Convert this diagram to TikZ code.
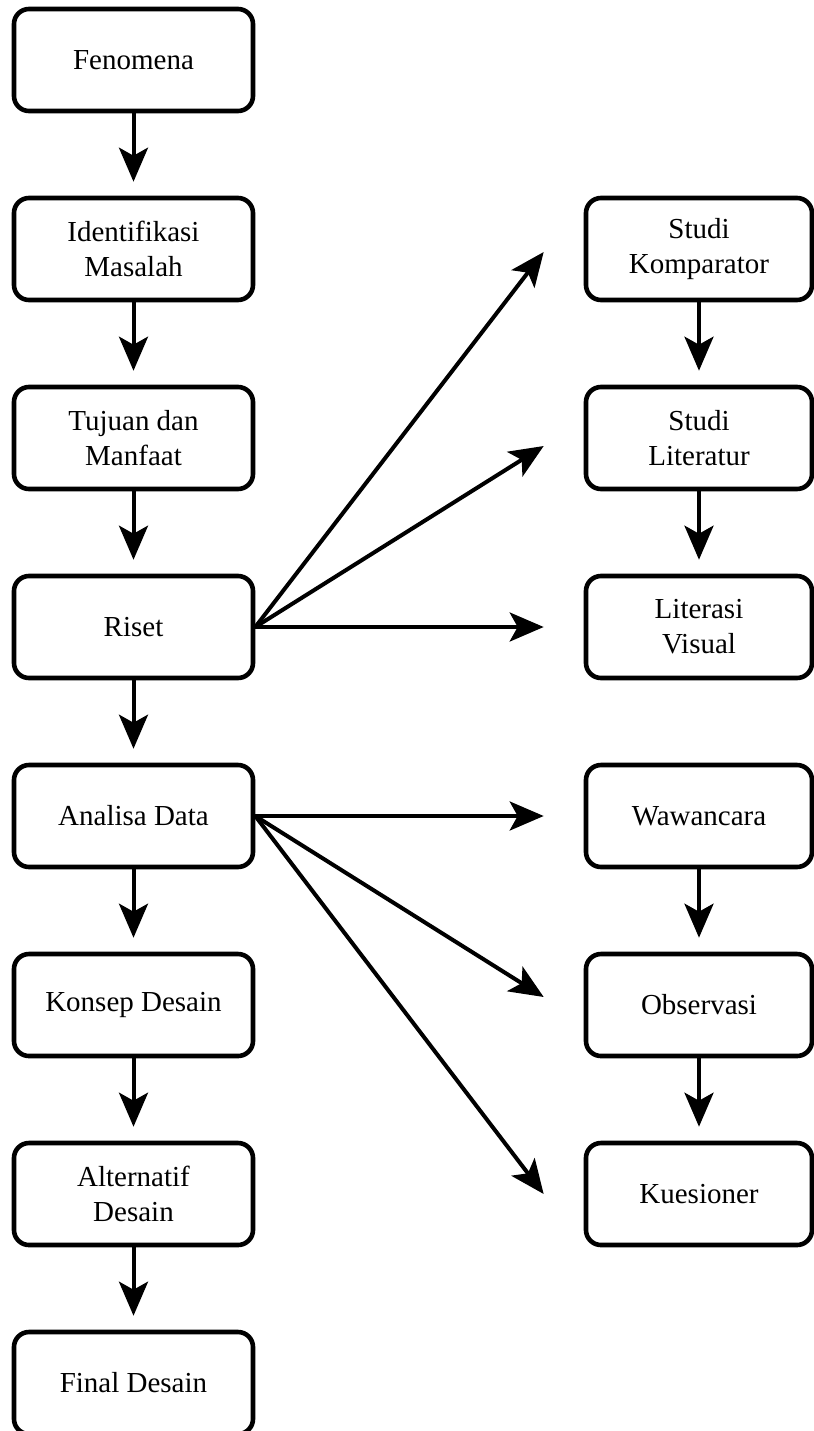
\documentclass[tikz,border=0pt]{standalone}
\usepackage{fontspec}
\setmainfont{Liberation Serif}
\usepackage{tikz}
\usetikzlibrary{positioning,arrows.meta}

\begin{document}
\begin{tikzpicture}[node distance=94.5pt,
    box/.style={draw, line width=2.3pt, rounded corners=7.5pt, align=center,
      minimum width=119.5pt, minimum height=51pt,
      font=\fontsize{14.5pt}{17.5pt}\selectfont},
    sidebox/.style={box, minimum width=113pt},
    >={Stealth[length=17pt,width=14.5pt,inset=4pt]}]
      \useasboundingbox (-66.75pt,30pt) rectangle (340.25pt,-685.5pt);
      % left column
      \node[box](fen){Fenomena};
      \node[box,below of=fen](ident){Identifikasi\\Masalah};
      \node[box,below of=ident](tuj){Tujuan dan\\Manfaat};
      \node[box,below of=tuj](riset){Riset};
      \node[box,below of=riset](anal){Analisa Data};
      \node[box,below of=anal](kons){Konsep Desain};
      \node[box,below of=kons](alt){Alternatif\\Desain};
      \node[box,below of=alt](final){Final Desain};
      % right column
      \node[sidebox,right of=ident,node distance=282.75pt](komp){Studi\\Komparator};
      \node[sidebox,below of=komp](lit){Studi\\Literatur};
      \node[sidebox,below of=lit](vis){Literasi\\Visual};
      \node[sidebox,below of=vis](waw){Wawancara};
      \node[sidebox,below of=waw](obs){Observasi};
      \node[sidebox,below of=obs](kues){Kuesioner};

      \path[->,line width=2pt,shorten >=7pt]
      (fen) edge (ident)
      (ident) edge (tuj)
      (tuj) edge (riset)
      (riset) edge (anal)
      (anal) edge (kons)
      (kons) edge (alt)
      (alt) edge (final)
      (komp) edge (lit)
      (lit) edge (vis)
      (waw) edge (obs)
      (obs) edge (kues);

      \path[->,line width=2pt]
      (riset.east) edge ([xshift=-20pt,yshift=-1.5pt]komp.west)
                   edge ([xshift=-20pt,yshift=-4pt]lit.west)
                   edge ([xshift=-20pt]vis.west)
      (anal.east) edge ([xshift=-20pt]waw.west)
                  edge ([xshift=-20pt,yshift=4pt]obs.west)
                  edge ([xshift=-20pt]kues.west);
    \end{tikzpicture}
\end{document}
